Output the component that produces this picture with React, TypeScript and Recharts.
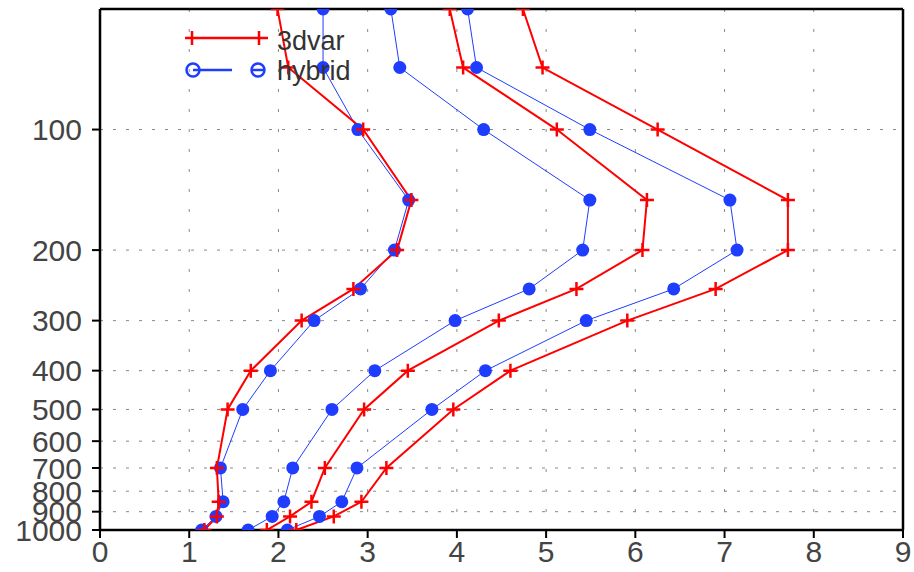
import { LineChart, Line, XAxis, YAxis, CartesianGrid, Legend, ReferenceLine } from 'recharts'

// pressure levels (hPa)
const levels = [50, 70, 100, 150, 200, 250, 300, 400, 500, 700, 850, 925, 1000]

// 3dvar profiles
const var3dA = [1.99, 2.11, 2.95, 3.49, 3.33, 2.84, 2.26, 1.69, 1.43, 1.31, 1.33, 1.31, 1.17]
const var3dB = [3.92, 4.07, 5.12, 6.13, 6.08, 5.34, 4.47, 3.45, 2.96, 2.52, 2.37, 2.13, 1.87]
const var3dC = [4.74, 4.96, 6.25, 7.71, 7.71, 6.90, 5.91, 4.60, 3.96, 3.21, 2.93, 2.62, 2.2]

// hybrid profiles
const hybridA = [2.5, 2.5, 2.89, 3.46, 3.3, 2.92, 2.4, 1.91, 1.6, 1.35, 1.38, 1.3, 1.14]
const hybridB = [3.26, 3.36, 4.3, 5.49, 5.41, 4.81, 3.98, 3.08, 2.6, 2.16, 2.06, 1.93, 1.66]
const hybridC = [4.12, 4.22, 5.49, 7.06, 7.14, 6.43, 5.45, 4.32, 3.72, 2.88, 2.71, 2.46, 2.1]

const xTicks = [0, 1, 2, 3, 4, 5, 6, 7, 8, 9]
const yTicks = [100, 200, 300, 400, 500, 600, 700, 800, 900, 1000]

const data = levels.map((p, i) => ({
  p,
  v1: var3dA[i],
  v2: var3dB[i],
  v3: var3dC[i],
  h1: hybridA[i],
  h2: hybridB[i],
  h3: hybridC[i],
}))

const RED = '#ff0000'
const BLUE = '#1f3dff'
const FONT = 'Liberation Sans, Arial, sans-serif'

const PlusDot = (props: any) => {
  const { cx, cy } = props
  if (cx == null || cy == null) return <g key={props.key} />
  return (
    <path
      key={props.key}
      d={`M${cx - 7},${cy}H${cx + 7}M${cx},${cy - 7}V${cy + 7}`}
      stroke={RED}
      strokeWidth={2.5}
      fill="none"
    />
  )
}

const RoundDot = (props: any) => {
  const { cx, cy } = props
  if (cx == null || cy == null) return <g key={props.key} />
  return <circle key={props.key} cx={cx} cy={cy} r={6.5} fill={BLUE} stroke="none" />
}

const renderLegend = () => (
  <svg width={200} height={70}>
    <line x1={5} y1={16} x2={88} y2={16} stroke={RED} strokeWidth={2.5} />
    <path d="M12,9V23M79,9V23" stroke={RED} strokeWidth={2.5} />
    <text x={97} y={28} fontSize={27} fontFamily={FONT} fill="#333">3dvar</text>
    <line x1={13} y1={48} x2={52} y2={48} stroke={BLUE} strokeWidth={2.5} />
    <circle cx={13} cy={48} r={6.5} fill="none" stroke={BLUE} strokeWidth={2.5} />
    <circle cx={78} cy={48} r={6.5} fill="none" stroke={BLUE} strokeWidth={2.5} />
    <line x1={71} y1={48} x2={85} y2={48} stroke={BLUE} strokeWidth={2.5} />
    <text x={97} y={58} fontSize={27} fontFamily={FONT} fill="#333">hybrid</text>
  </svg>
)

const tickStyle = { fontSize: 30, fontFamily: FONT, fill: '#444' }

export default function App() {
  return (
    <div style={{ position: 'absolute', left: 0, top: 0, background: '#fff' }}>
      <LineChart
        width={914}
        height={572}
        data={data}
        layout="vertical"
        margin={{ top: 9, right: 11, left: 0, bottom: 0 }}
      >
        <CartesianGrid horizontal={false} stroke="#888" strokeDasharray="3 17" />
        <CartesianGrid vertical={false} stroke="#888" strokeDasharray="3 10" />
        <XAxis
          type="number"
          domain={[0, 9]}
          ticks={xTicks}
          interval={0}
          height={42}
          tick={tickStyle}
          tickMargin={3}
          tickSize={8}
          tickLine={{ stroke: '#000', strokeWidth: 2 }}
          axisLine={{ stroke: '#000', strokeWidth: 2.5 }}
        />
        <YAxis
          type="number"
          dataKey="p"
          scale="log"
          domain={[50, 1000]}
          allowDataOverflow
          ticks={yTicks}
          interval={0}
          width={100}
          tick={tickStyle}
          tickMargin={10}
          tickSize={8}
          tickLine={{ stroke: '#000', strokeWidth: 2 }}
          axisLine={{ stroke: '#000', strokeWidth: 2.5 }}
        />
        <ReferenceLine x={9} stroke="#000" strokeWidth={2.5} />
        <ReferenceLine y={50} stroke="#000" strokeWidth={2.5} />
        <Legend
          content={renderLegend}
          layout="horizontal"
          verticalAlign="middle"
          align="center"
          wrapperStyle={{ top: 22, left: 180, width: 200 }}
        />
        <Line dataKey="h1" stroke={BLUE} strokeWidth={1} dot={RoundDot} isAnimationActive={false} />
        <Line dataKey="h2" stroke={BLUE} strokeWidth={1} dot={RoundDot} isAnimationActive={false} />
        <Line dataKey="h3" stroke={BLUE} strokeWidth={1} dot={RoundDot} isAnimationActive={false} />
        <Line dataKey="v1" stroke={RED} strokeWidth={2} dot={PlusDot} isAnimationActive={false} />
        <Line dataKey="v2" stroke={RED} strokeWidth={2} dot={PlusDot} isAnimationActive={false} />
        <Line dataKey="v3" stroke={RED} strokeWidth={2} dot={PlusDot} isAnimationActive={false} />
      </LineChart>
    </div>
  )
}
